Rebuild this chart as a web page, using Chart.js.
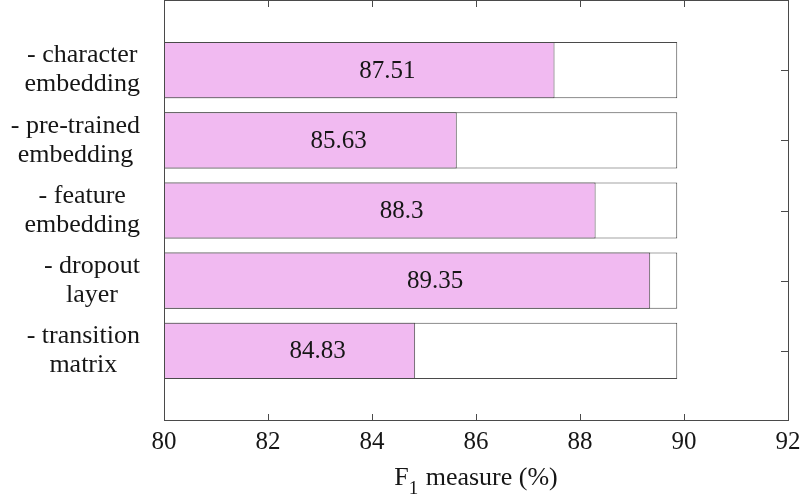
<!DOCTYPE html>
<html>
<head>
<meta charset="utf-8">
<script src="https://cdn.jsdelivr.net/npm/chart.js@4"></script>
<style>
  html, body { margin: 0; padding: 0; background: #fff; }
  #wrap { width: 800px; height: 499px; }
</style>
</head>
<body>
<div id="wrap"><canvas id="chart"></canvas></div>
<script>
// --- Data ---
const LABELS = [
  ['- character', 'embedding'],
  ['- pre-trained', 'embedding'],
  ['- feature', 'embedding'],
  ['- dropout', 'layer'],
  ['- transition', 'matrix'],
];
const SCORES = [87.51, 85.63, 88.3, 89.35, 84.83];
const FULL_MODEL = [89.87, 89.87, 89.87, 89.87, 89.87];
const POSITIONS = [1, 2, 3, 4, 5];
const X_TICKS = [80, 82, 84, 86, 88, 90, 92];
const X_MIN = 80, X_MAX = 92;
const X_TITLE = ['F', '1', ' measure (%)'];

const FONT = "'Liberation Serif', serif";
const AXIS = '#4a4a4a';
const INK = '#161616';

// --- Box + inward ticks, value labels, y labels, axis title ---
const boxPlugin = {
  id: 'box',
  beforeDatasetsDraw(chart) {
    const { ctx, chartArea: a, scales: { x, y } } = chart;
    const tl = 7;
    ctx.save();
    ctx.strokeStyle = AXIS;
    ctx.lineWidth = 1;
    ctx.beginPath();
    X_TICKS.forEach(v => {
      const px = Math.round(x.getPixelForValue(v)) + 0.5;
      ctx.moveTo(px, a.bottom); ctx.lineTo(px, a.bottom - tl);
      ctx.moveTo(px, a.top); ctx.lineTo(px, a.top + tl);
    });
    POSITIONS.forEach(v => {
      const py = Math.round(y.getPixelForValue(v)) + 0.5;
      ctx.moveTo(a.left, py); ctx.lineTo(a.left + tl, py);
      ctx.moveTo(a.right, py); ctx.lineTo(a.right - tl, py);
    });
    ctx.stroke();
    ctx.restore();
  },
  afterDatasetsDraw(chart) {
    const { ctx, chartArea: a, scales: { x, y } } = chart;
    ctx.save();
    ctx.strokeStyle = AXIS;
    ctx.lineWidth = 1;
    ctx.strokeRect(Math.round(a.left) + 0.5, Math.round(a.top) + 0.5,
      Math.round(a.right - a.left), Math.round(a.bottom - a.top) - 1);

    // values, left-aligned at the middle of each bar
    ctx.fillStyle = INK;
    ctx.font = '25px ' + FONT;
    ctx.textAlign = 'left';
    ctx.textBaseline = 'middle';
    SCORES.forEach((v, i) => {
      ctx.fillText(String(v), x.getPixelForValue((X_MIN + v) / 2), y.getPixelForValue(POSITIONS[i]) + 1);
    });

    // category labels: block right-aligned, lines centred in the block
    ctx.font = '26px ' + FONT;
    ctx.textAlign = 'center';
    const rightEdge = a.left - 24;
    LABELS.forEach((lines, i) => {
      const w = Math.max(...lines.map(s => ctx.measureText(s).width));
      const cx = rightEdge - w / 2;
      const cy = y.getPixelForValue(POSITIONS[i]);
      lines.forEach((s, j) => {
        ctx.fillText(s, cx, cy + (j - (lines.length - 1) / 2) * 29);
      });
    });

    // x title with a lowered subscript
    ctx.textAlign = 'left';
    ctx.textBaseline = 'alphabetic';
    const big = '26px ' + FONT, small = '19px ' + FONT;
    ctx.font = big; const w0 = ctx.measureText(X_TITLE[0]).width, w2 = ctx.measureText(X_TITLE[2]).width;
    ctx.font = small; const w1 = ctx.measureText(X_TITLE[1]).width + 1;
    let tx = (a.left + a.right) / 2 - (w0 + w1 + w2) / 2;
    const base = 485;
    ctx.font = big; ctx.fillText(X_TITLE[0], tx, base); tx += w0;
    ctx.font = small; ctx.fillText(X_TITLE[1], tx, base + 9); tx += w1;
    ctx.font = big; ctx.fillText(X_TITLE[2], tx, base);
    ctx.restore();
  }
};

function draw() {
  new Chart(document.getElementById('chart'), {
    type: 'bar',
    data: {
      datasets: [
        {
          label: 'ablation',
          data: POSITIONS.map((p, i) => ({ y: p, x: SCORES[i] })),
          backgroundColor: '#f1baf1',
          borderColor: AXIS,
          borderWidth: 1,
          borderSkipped: false,
          order: 0,
        },
        {
          label: 'full model',
          data: POSITIONS.map((p, i) => ({ y: p, x: FULL_MODEL[i] })),
          backgroundColor: '#ffffff',
          borderColor: AXIS,
          borderWidth: 1,
          borderSkipped: false,
          order: 1,
        }
      ]
    },
    options: {
      indexAxis: 'y',
      responsive: true,
      maintainAspectRatio: false,
      animation: false,
      layout: { padding: { top: 0, right: 12, left: 0, bottom: 0 } },
      datasets: { bar: { grouped: false, categoryPercentage: 1, barPercentage: 0.8 } },
      plugins: { legend: { display: false }, tooltip: { enabled: false } },
      scales: {
        x: {
          type: 'linear',
          min: X_MIN, max: X_MAX,
          grid: { display: false, drawTicks: false },
          border: { display: false },
          afterBuildTicks: s => { s.ticks = X_TICKS.map(v => ({ value: v })); },
          ticks: { color: INK, font: { family: FONT, size: 25 }, padding: 6, maxRotation: 0 },
          afterFit: s => { s.height = 78; s.paddingLeft = 0; s.paddingRight = 0; }
        },
        y: {
          type: 'linear',
          min: 0, max: 6,
          reverse: true,
          offset: false,
          grid: { display: false, drawTicks: false },
          border: { display: false },
          ticks: { display: false },
          afterFit: s => { s.width = 164; }
        }
      }
    },
    plugins: [boxPlugin]
  });
}

document.fonts.load("25px 'Liberation Serif'").then(draw, draw);
</script>
</body>
</html>
